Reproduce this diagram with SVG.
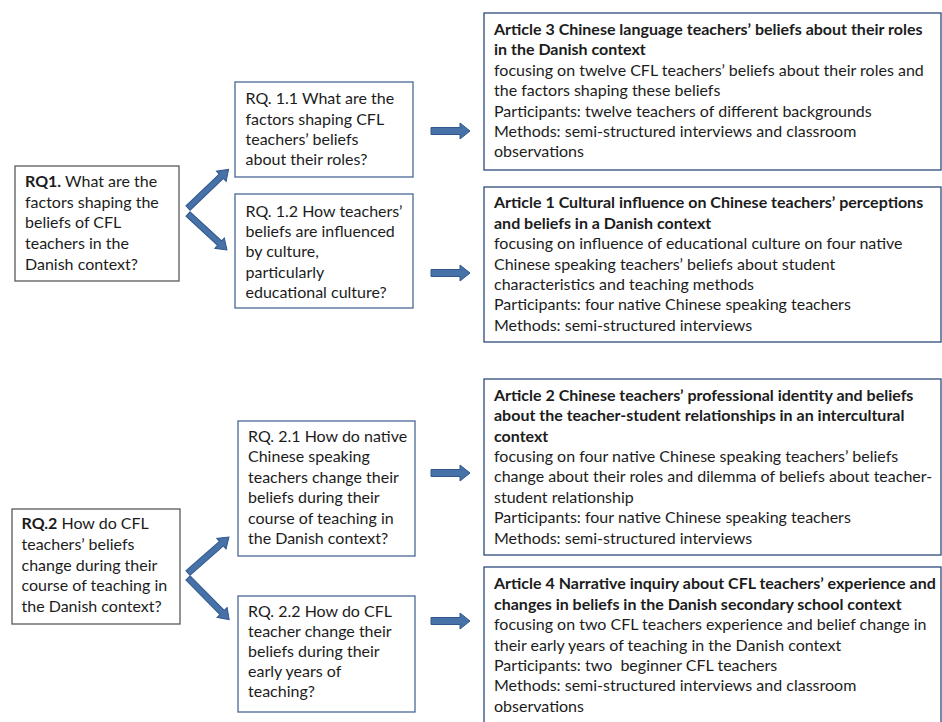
<svg xmlns="http://www.w3.org/2000/svg" width="942" height="722" viewBox="0 0 942 722">
<style>
text{font-family:Lato,"Open Sans","Liberation Sans",sans-serif;font-size:16px;fill:#1c1c1c}
.b{font-weight:bold}
.rq{fill:#fff;stroke:#595959;stroke-width:1.3}
.sq{fill:#fff;stroke:#4a6796;stroke-width:1.3}
.art{fill:#fff;stroke:#2f4a7c;stroke-width:1.3}
.arr{fill:#4672a8;stroke:#31578e;stroke-width:1}
</style>
<rect width="942" height="722" fill="#fff"/>
<g id="connectors">
<path class="arr" transform="translate(431,131)" d="M0,-3.5 H29 V-8 L39,0 L29,8 V3.5 H0 Z"/>
<path class="arr" transform="translate(431,273)" d="M0,-3.5 H29 V-8 L39,0 L29,8 V3.5 H0 Z"/>
<path class="arr" transform="translate(431,473)" d="M0,-3.5 H29 V-8 L39,0 L29,8 V3.5 H0 Z"/>
<path class="arr" transform="translate(431,621)" d="M0,-3.5 H29 V-8 L39,0 L29,8 V3.5 H0 Z"/>
<path class="arr" transform="translate(188,208) rotate(-43.6)" d="M0,-3 H46 V-7 L56,0 L46,7 V3 H0 Z"/>
<path class="arr" transform="translate(188,214) rotate(42.7)" d="M0,-3 H43 V-7 L53,0 L43,7 V3 H0 Z"/>
<path class="arr" transform="translate(188,573) rotate(-41.3)" d="M0,-3 H44.5 V-7 L54.5,0 L44.5,7 V3 H0 Z"/>
<path class="arr" transform="translate(188,578) rotate(45.3)" d="M0,-3 H48.5 V-7 L58.5,0 L48.5,7 V3 H0 Z"/>
</g>
<g id="rq1">
<rect class="rq" x="15" y="166" width="164" height="115"/>
<text x="25" y="187"><tspan class="b">RQ1.</tspan> What are the</text>
<text x="25" y="207.7">factors shaping the</text>
<text x="25" y="228.4">beliefs of CFL</text>
<text x="25" y="249.1">teachers in the</text>
<text x="25" y="269.8">Danish context?</text>
</g>
<g id="rq11">
<rect class="sq" x="235" y="82" width="178" height="95"/>
<text x="245.5" y="104.3">RQ. 1.1 What are the</text>
<text x="245.5" y="124.5">factors shaping CFL</text>
<text x="245.5" y="144.7">teachers’ beliefs</text>
<text x="245.5" y="165">about their roles?</text>
</g>
<g id="rq12">
<rect class="sq" x="235" y="194" width="178" height="114"/>
<text x="245.5" y="216.7">RQ. 1.2 How teachers’</text>
<text x="245.5" y="237">beliefs are influenced</text>
<text x="245.5" y="257.2">by culture,</text>
<text x="245.5" y="277.5">particularly</text>
<text x="245.5" y="297.7">educational culture?</text>
</g>
<g id="art3">
<rect class="art" x="484" y="13" width="457" height="157"/>
<text class="b" x="494" y="35">Article 3 Chinese language teachers’ beliefs about their roles</text>
<text class="b" x="494" y="55.4">in the Danish context</text>
<text x="494" y="75.8">focusing on twelve CFL teachers’ beliefs about their roles and</text>
<text x="494" y="96.2">the factors shaping these beliefs</text>
<text x="494" y="116.6">Participants: twelve teachers of different backgrounds</text>
<text x="494" y="137">Methods: semi-structured interviews and classroom</text>
<text x="494" y="157.4">observations</text>
</g>
<g id="art1">
<rect class="art" x="484" y="187" width="457" height="155"/>
<text class="b" x="494" y="208.3">Article 1 Cultural influence on Chinese teachers’ perceptions</text>
<text class="b" x="494" y="228.7">and beliefs in a Danish context</text>
<text x="494" y="249.1">focusing on influence of educational culture on four native</text>
<text x="494" y="269.5">Chinese speaking teachers’ beliefs about student</text>
<text x="494" y="289.9">characteristics and teaching methods</text>
<text x="494" y="310.3">Participants: four native Chinese speaking teachers</text>
<text x="494" y="330.7">Methods: semi-structured interviews</text>
</g>
<g id="rq2">
<rect class="rq" x="12" y="509" width="168" height="115"/>
<text x="21.5" y="529.3"><tspan class="b">RQ.2</tspan> How do CFL</text>
<text x="21.5" y="549.9">teachers’ beliefs</text>
<text x="21.5" y="570.5">change during their</text>
<text x="21.5" y="591.1">course of teaching in</text>
<text x="21.5" y="611.7">the Danish context?</text>
</g>
<g id="rq21">
<rect class="sq" x="238" y="421" width="177" height="135"/>
<text x="248" y="441.7">RQ. 2.1 How do native</text>
<text x="248" y="462.2">Chinese speaking</text>
<text x="248" y="482.7">teachers change their</text>
<text x="248" y="503.2">beliefs during their</text>
<text x="248" y="523.7">course of teaching in</text>
<text x="248" y="544.2">the Danish context?</text>
</g>
<g id="rq22">
<rect class="sq" x="238" y="596" width="177" height="116"/>
<text x="248" y="616.7">RQ. 2.2 How do CFL</text>
<text x="248" y="636.7">teacher change their</text>
<text x="248" y="656.7">beliefs during their</text>
<text x="248" y="676.7">early years of</text>
<text x="248" y="696.7">teaching?</text>
</g>
<g id="art2">
<rect class="art" x="484" y="379" width="457" height="176"/>
<text class="b" x="494" y="400.7">Article 2 Chinese teachers’ professional identity and beliefs</text>
<text class="b" x="494" y="421.1">about the teacher-student relationships in an intercultural</text>
<text class="b" x="494" y="441.5">context</text>
<text x="494" y="461.9">focusing on four native Chinese speaking teachers’ beliefs</text>
<text x="494" y="482.3">change about their roles and dilemma of beliefs about teacher-</text>
<text x="494" y="502.7">student relationship</text>
<text x="494" y="523.1">Participants: four native Chinese speaking teachers</text>
<text x="494" y="543.5">Methods: semi-structured interviews</text>
</g>
<g id="art4">
<rect class="art" x="484" y="567" width="457" height="170"/>
<text class="b" x="494" y="589.3">Article 4 Narrative inquiry about CFL teachers’ experience and</text>
<text class="b" x="494" y="609.7">changes in beliefs in the Danish secondary school context</text>
<text x="494" y="630.1">focusing on two CFL teachers experience and belief change in</text>
<text x="494" y="650.5">their early years of teaching in the Danish context</text>
<text x="494" y="670.9" style="white-space:pre">Participants: two  beginner CFL teachers</text>
<text x="494" y="691.3">Methods: semi-structured interviews and classroom</text>
<text x="494" y="711.7">observations</text>
</g>
</svg>
